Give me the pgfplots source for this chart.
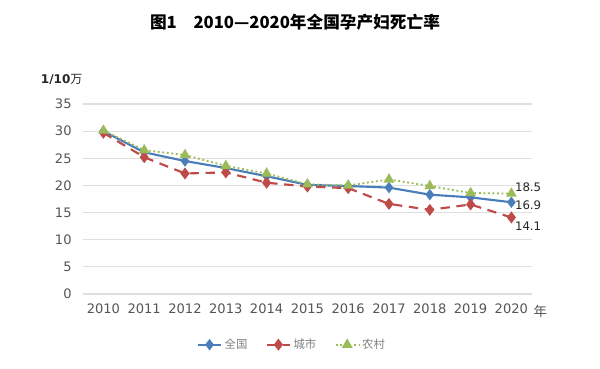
\documentclass[border=0pt]{standalone}
\usepackage{pgfplots}
\pgfplotsset{compat=1.18}
\usepackage{fontspec}
\setmainfont{DejaVu Sans}
\newfontfamily\cjk{Noto Sans CJK SC}
\definecolor{cblue}{HTML}{4A7EBB}
\definecolor{cred}{HTML}{BE4B48}
\definecolor{cgreen}{HTML}{9BBB59}
\definecolor{tickc}{HTML}{555555}
\begin{document}
\begin{tikzpicture}
\useasboundingbox (-62.25pt,-55.5pt) rectangle (387.75pt,220.5pt);
\begin{axis}[
  at={(0,0)}, anchor=south west,
  scale only axis, width=336.6pt, height=142.5pt,
  xmin=2009.5, xmax=2020.5, ymin=0, ymax=35,
  xtick={2010,...,2020}, ytick={0,5,...,35},
  x tick label style={/pgf/number format/1000 sep={}, yshift=-4pt},
  y tick label style={xshift=-5pt},
  /pgf/number format/assume math mode=true,
  tick label style={font=\fontsize{9.8}{11}\selectfont, text=tickc},
  axis line style={draw=none}, tick style={draw=none},
  ymajorgrids, grid style={gray!25, line width=0.8pt},
  clip=false,
  legend style={at={(157pt,-38pt)}, anchor=center, draw=none, legend columns=3,
    font=\cjk\fontsize{8.5}{10}\selectfont, text=gray,
    /tikz/every even column/.append style={column sep=12pt}},
  legend cell align=left,
]
\addplot[cblue, line width=1.6pt, mark=diamond*, mark size=3pt] coordinates {
(2010,30.0) (2011,26.1) (2012,24.5) (2013,23.2) (2014,21.7) (2015,20.1) (2016,19.9) (2017,19.6) (2018,18.3) (2019,17.8) (2020,16.9)};
\addlegendentry{全国}
\addplot[cred, line width=1.6pt, dash pattern=on 7pt off 5pt, mark=diamond*, mark size=3.2pt, mark options={solid}] coordinates {
(2010,29.7) (2011,25.2) (2012,22.2) (2013,22.4) (2014,20.5) (2015,19.8) (2016,19.5) (2017,16.6) (2018,15.5) (2019,16.5) (2020,14.1)};
\addlegendentry{城市}
\addplot[cgreen, line width=1.4pt, dotted, mark=triangle*, mark size=3.3pt, mark options={solid}] coordinates {
(2010,30.1) (2011,26.5) (2012,25.6) (2013,23.6) (2014,22.2) (2015,20.2) (2016,20.0) (2017,21.1) (2018,19.9) (2019,18.6) (2020,18.5)};
\addlegendentry{农村}
\node[anchor=west, font=\fontsize{8.8}{10}\selectfont, text=black!85, inner sep=1pt] at (axis cs:2020.05,19.6) {18.5};
\node[anchor=west, font=\fontsize{8.8}{10}\selectfont, text=black!85, inner sep=1pt] at (axis cs:2020.05,16.3) {16.9};
\node[anchor=west, font=\fontsize{8.8}{10}\selectfont, text=black!85, inner sep=1pt] at (axis cs:2020.05,12.4) {14.1};
\end{axis}
\node[font=\cjk\bfseries\fontsize{12.5}{14}\selectfont] at (159pt,203.5pt) {图1\quad 2010—2020年全国孕产妇死亡率};
\node[font=\fontsize{9}{10}\selectfont, text=black!85] at (-16pt,161.25pt) {\textbf{1/10}{\cjk 万}};
\node[font=\cjk\fontsize{10}{11}\selectfont, text=tickc] at (343pt,-13pt) {年};
\end{tikzpicture}
\end{document}
